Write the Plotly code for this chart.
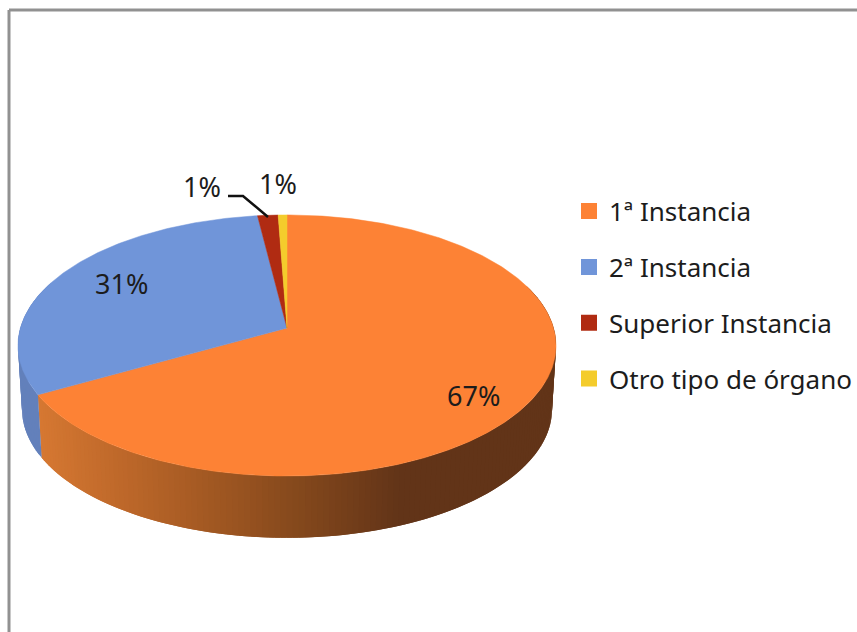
import numpy as np
import plotly.graph_objects as go

categories = ["1ª Instancia", "2ª Instancia", "Superior Instancia", "Otro tipo de órgano"]
values = [66.9, 31.1, 1.4, 0.6]
colors = ["#FD8235", "#7095D9", "#B02B12", "#F4CC2C"]
wall_colors = [None, "#6380BB", "#8A2310", "#C0A020"]
label_x = [473, 121.5, 202, 278]
label_y = [395, 283, 186, 183]

CX, CY, R, Q, K = 287.0, 328.0, 266.6, 128.2, 0.134
DEPTH, SHRINK = 64.0, 0.985
FONT = "Noto Sans"


def project(a, lower=False):
    u, v = np.sin(a), np.cos(a)
    s = 1 / (1 + K * v)
    f = SHRINK if lower else 1.0
    return CX + R * u * s * f, CY + (DEPTH if lower else 0) - Q * v * s * f


def orange_wall(x):
    stops_x = [38, 120, 200, 300, 400, 857]
    r = np.interp(x, stops_x, [214, 190, 165, 132, 98, 98])
    g = np.interp(x, stops_x, [120, 104, 90, 72, 52, 52])
    b = np.interp(x, stops_x, [50, 42, 35, 28, 24, 24])
    return f"rgb({r:.0f},{g:.0f},{b:.0f})"


fig = go.Figure()
edges = np.cumsum([0] + values) / sum(values) * 2 * np.pi

# side wall, only the part facing the viewer can show; each quad runs under the next
for i in range(len(values)):
    a0, a1 = edges[i], edges[i + 1]
    step = 0.02
    steps = max(2, int((a1 - a0) / step))
    grid = np.linspace(a0, a1, steps + 1)
    for g0, g1 in zip(grid[:-1], grid[1:]):
        if np.cos((g0 + g1) / 2) > 0.35:
            continue
        end = min(g1 + step, a1)
        xs_t, ys_t = project(np.array([g0, end]))
        xs_b, ys_b = project(np.array([end, g0]), lower=True)
        col = orange_wall(project(np.array([(g0 + g1) / 2]))[0][0]) if wall_colors[i] is None else wall_colors[i]
        fig.add_trace(go.Scatter(
            x=list(xs_t) + list(xs_b), y=list(ys_t) + list(ys_b), mode="lines",
            fill="toself", fillcolor=col, line=dict(width=0),
            showlegend=False, hoverinfo="skip"))

# top face
for i in range(len(values)):
    a = np.linspace(edges[i], edges[i + 1], max(3, int((edges[i + 1] - edges[i]) / 0.01)))
    x, y = project(a)
    fig.add_trace(go.Scatter(
        x=[CX] + list(x) + [CX], y=[CY] + list(y) + [CY], mode="lines",
        fill="toself", fillcolor=colors[i], line=dict(color=colors[i], width=0.5),
        showlegend=False, hoverinfo="skip"))

# leader line of the small slice
fig.add_trace(go.Scatter(x=[228, 243, 268], y=[196, 196, 217], mode="lines",
                         line=dict(color="#111111", width=2.5), showlegend=False, hoverinfo="skip"))

# legend entries
for i, name in enumerate(categories):
    fig.add_trace(go.Scatter(
        x=[None], y=[None], mode="markers", name=name, legendgroup=name,
        marker=dict(symbol="square", size=16, color=colors[i])))

for v, lx, ly in zip(values, label_x, label_y):
    fig.add_annotation(x=lx, y=ly, text=f"{round(v / sum(values) * 100)}%", showarrow=False,
                       font=dict(family=FONT, size=27, color="#1c1c1c"))

frame = dict(color="#919191", width=3)
fig.add_shape(type="line", x0=9, x1=9, y0=10, y1=632, line=frame, layer="below")
fig.add_shape(type="line", x0=9, x1=857, y0=10, y1=10, line=frame, layer="below")

fig.update_layout(
    width=857, height=632, margin=dict(l=0, r=0, t=0, b=0),
    paper_bgcolor="white", plot_bgcolor="white",
    xaxis=dict(range=[0, 857], visible=False, fixedrange=True),
    yaxis=dict(range=[632, 0], visible=False, fixedrange=True),
    font=dict(family=FONT, size=26, color="#1c1c1c"),
    legend=dict(x=0.664, y=0.703, xanchor="left", yanchor="top", tracegroupgap=19,
                bgcolor="rgba(0,0,0,0)", itemclick=False, itemdoubleclick=False,
                font=dict(family=FONT, size=26, color="#1c1c1c")),
)
fig.write_html("out.html", config=dict(displayModeBar=False),
               post_script="document.body.style.margin='0';document.documentElement.style.overflow='hidden';")
